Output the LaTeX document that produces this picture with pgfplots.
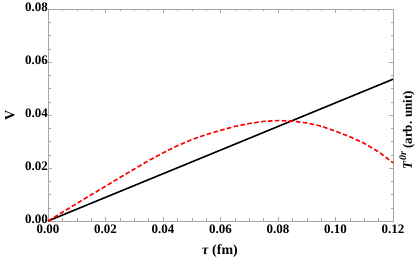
\documentclass[border=0pt]{standalone}
\usepackage{fontspec}
\setmainfont{Liberation Serif}
\usepackage{pgfplots}
\pgfplotsset{compat=1.18}
\begin{document}
\begin{tikzpicture}
\begin{axis}[
  at={(0,0)}, anchor=origin,
  scale only axis, width=345bp, height=212bp,
  xmin=0, xmax=0.12, ymin=0, ymax=0.08,
  xtick={0,0.02,...,0.12}, ytick={0,0.02,...,0.08},
  minor tick num=3,
  scaled ticks=false,
  tick align=inside,
  major tick length=4bp, minor tick length=2.5bp,
  axis line style={gray!70},
  every tick/.style={gray!70},
  /pgf/number format/assume math mode=true,
  xticklabel style={/pgf/number format/.cd,fixed,fixed zerofill,precision=2,/tikz/.cd, font=\fontsize{13}{15}\selectfont\bfseries, inner sep=1pt, yshift=-2.5pt},
  yticklabel style={/pgf/number format/.cd,fixed,fixed zerofill,precision=2,/tikz/.cd, font=\fontsize{13}{15}\selectfont\bfseries, inner sep=1pt, xshift=1pt, yshift=2pt},
  clip=false,
]
\addplot[black, line width=1.6pt] coordinates {(0,0) (0.12,0.0535)};
\addplot[red, line width=1.6pt, dash pattern=on 4.5pt off 2.5pt] coordinates {
(0,0) (0.005,0.0033) (0.01,0.0066) (0.015,0.0099) (0.02,0.0131) (0.025,0.0164) (0.03,0.0196) (0.035,0.0228)
(0.04,0.0257) (0.045,0.0284) (0.05,0.0307) (0.055,0.0326) (0.06,0.0342) (0.065,0.0357) (0.07,0.0368)
(0.075,0.0376) (0.08,0.0379) (0.085,0.0377) (0.09,0.0370) (0.095,0.0358) (0.10,0.0339)
(0.105,0.0318) (0.11,0.0293) (0.115,0.0261) (0.12,0.0220)};
\end{axis}
\node[rotate=90, font=\fontsize{14}{16}\selectfont\bfseries] at (-38bp,106bp) {V};
\node[rotate=90, font=\fontsize{13}{15}\selectfont\bfseries] at (359bp,91bp) {\textit{T}\raisebox{0.45em}{\fontsize{10}{12}\selectfont\textit{0r}} (arb. unit)};
\node[font=\fontsize{14}{16}\selectfont\bfseries] at (172bp,-30bp) {\textit{τ} (fm)};
\pgfresetboundingbox
\path (-48bp,-43bp) rectangle (368bp,221bp);
\end{tikzpicture}
\end{document}
